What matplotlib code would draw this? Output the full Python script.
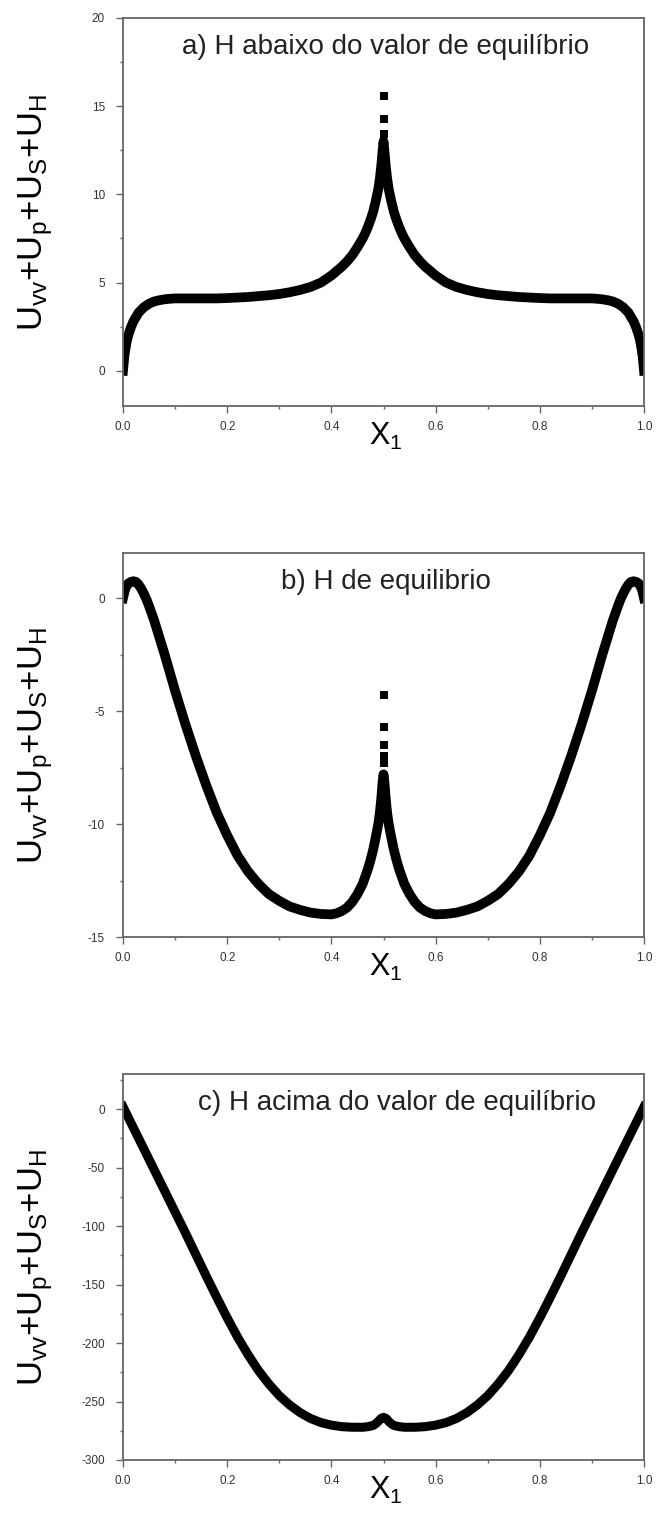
import matplotlib
matplotlib.use("Agg")
import matplotlib.pyplot as plt
from matplotlib.ticker import MultipleLocator, FormatStrFormatter

plt.rcParams['font.family'] = ['Liberation Sans', 'DejaVu Sans']
plt.rcParams['mathtext.fontset'] = 'custom'
plt.rcParams['mathtext.rm'] = 'Liberation Sans'
plt.rcParams['mathtext.it'] = 'Liberation Sans'

# a) H below equilibrium
xa = [0, 0.0025, 0.005, 0.0075, 0.01, 0.015, 0.02, 0.025, 0.03, 0.035, 0.04, 0.045, 0.05,
      0.06, 0.07, 0.08, 0.09, 0.10, 0.12, 0.14, 0.16, 0.18, 0.20, 0.22, 0.24, 0.26, 0.28,
      0.30, 0.32, 0.34, 0.36, 0.38, 0.40, 0.41, 0.42, 0.43, 0.44, 0.45, 0.46, 0.465, 0.47,
      0.475, 0.48, 0.485, 0.49, 0.493, 0.496, 0.498, 0.50,
      0.502, 0.504, 0.507, 0.51, 0.515, 0.52, 0.525, 0.53, 0.535, 0.54, 0.55, 0.56, 0.57,
      0.58, 0.59, 0.60, 0.62, 0.64, 0.66, 0.68, 0.70, 0.72, 0.74, 0.76, 0.78, 0.80, 0.82,
      0.84, 0.86, 0.88, 0.90, 0.91, 0.92, 0.93, 0.94, 0.95, 0.955, 0.96, 0.965, 0.97,
      0.975, 0.98, 0.985, 0.99, 0.9925, 0.995, 0.9975, 1.0]
ya = [0, 0.8, 1.3, 1.7, 2.0, 2.45, 2.8, 3.05, 3.3, 3.45, 3.6, 3.7, 3.8,
      3.93, 4.0, 4.05, 4.08, 4.1, 4.1, 4.1, 4.1, 4.1, 4.12, 4.15, 4.18, 4.23, 4.28,
      4.35, 4.45, 4.58, 4.75, 5.0, 5.4, 5.65, 5.9, 6.2, 6.55, 7.0, 7.5, 7.8, 8.15,
      8.55, 9.0, 9.6, 10.3, 10.9, 11.7, 12.4, 13.0,
      12.4, 11.7, 10.9, 10.3, 9.6, 9.0, 8.55, 8.15, 7.8, 7.5, 7.0, 6.55, 6.2,
      5.9, 5.65, 5.4, 5.0, 4.75, 4.58, 4.45, 4.35, 4.28, 4.23, 4.18, 4.15, 4.12, 4.1,
      4.1, 4.1, 4.1, 4.1, 4.08, 4.05, 4.0, 3.93, 3.8, 3.7, 3.6, 3.45, 3.3,
      3.05, 2.8, 2.45, 2.0, 1.7, 1.3, 0.8, 0]
spike_a = [13.4, 14.3, 15.6]

# b) equilibrium H
xb = [0, 0.003, 0.006, 0.01, 0.015, 0.02, 0.025, 0.03, 0.035, 0.04, 0.045, 0.05, 0.06,
      0.07, 0.08, 0.09, 0.10, 0.12, 0.14, 0.16, 0.18, 0.20, 0.22, 0.24, 0.26, 0.28, 0.30,
      0.32, 0.34, 0.36, 0.38, 0.40, 0.41, 0.42, 0.43, 0.44, 0.45, 0.46, 0.47, 0.475, 0.48,
      0.485, 0.49, 0.493, 0.496, 0.498, 0.50,
      0.502, 0.504, 0.507, 0.51, 0.515, 0.52, 0.525, 0.53, 0.54, 0.55, 0.56, 0.57, 0.58,
      0.59, 0.60, 0.62, 0.64, 0.66, 0.68, 0.70, 0.72, 0.74, 0.76, 0.78, 0.80, 0.82, 0.84,
      0.86, 0.88, 0.90, 0.91, 0.92, 0.93, 0.94, 0.95, 0.955, 0.96, 0.965, 0.97, 0.975,
      0.98, 0.985, 0.99, 0.994, 0.997, 1.0]
yb = [0, 0.3, 0.5, 0.65, 0.72, 0.75, 0.72, 0.6, 0.42, 0.2, -0.05, -0.35, -1.0,
      -1.75, -2.5, -3.3, -4.1, -5.6, -7.0, -8.3, -9.5, -10.5, -11.4, -12.1, -12.65, -13.1, -13.4,
      -13.65, -13.8, -13.92, -13.98, -14.0, -13.95, -13.85, -13.7, -13.45, -13.1, -12.65, -12.0,
      -11.6, -11.15, -10.6, -10.0, -9.5, -8.8, -8.2, -7.8,
      -8.2, -8.8, -9.5, -10.0, -10.6, -11.15, -11.6, -12.0, -12.65, -13.1, -13.45, -13.7, -13.85,
      -13.95, -14.0, -13.98, -13.92, -13.8, -13.65, -13.4, -13.1, -12.65, -12.1, -11.4, -10.5,
      -9.5, -8.3, -7.0, -5.6, -4.1, -3.3, -2.5, -1.75, -1.0, -0.35, -0.05, 0.2, 0.42, 0.6,
      0.72, 0.75, 0.72, 0.65, 0.5, 0.3, 0]
spike_b = [-7.3, -7.0, -6.5, -5.7, -4.3]

# c) H above equilibrium
xc = [0, 0.02, 0.04, 0.06, 0.08, 0.10, 0.12, 0.14, 0.16, 0.18, 0.20, 0.22, 0.24, 0.26,
      0.28, 0.30, 0.32, 0.34, 0.36, 0.38, 0.40, 0.42, 0.44, 0.46, 0.47, 0.48, 0.485, 0.49,
      0.495, 0.50,
      0.505, 0.51, 0.515, 0.52, 0.53, 0.54, 0.56, 0.58, 0.60, 0.62, 0.64, 0.66, 0.68, 0.70,
      0.72, 0.74, 0.76, 0.78, 0.80, 0.82, 0.84, 0.86, 0.88, 0.90, 0.92, 0.94, 0.96, 0.98, 1.0]
yc = [2, -16, -34, -52, -70, -88, -106, -124.5, -143, -161, -178.5, -195, -210, -223.5,
      -235, -245, -253, -259.5, -264.5, -268, -270.2, -271.5, -272, -272, -271.5, -270.5,
      -269, -267, -264.5, -263.5,
      -264.5, -267, -269, -270.5, -271.5, -272, -272, -271.5, -270.2, -268, -264.5, -259.5,
      -253, -245, -235, -223.5, -210, -195, -178.5, -161, -143, -124.5, -106, -88, -70, -52,
      -34, -16, 2]

titles = ["a) H abaixo do valor de equilíbrio",
          "b) H de equilibrio",
          "c) H acima do valor de equilíbrio"]
title_x = [0.503, 0.505, 0.525]

W, H = 659, 1514
fig = plt.figure(figsize=(W / 100, H / 100), dpi=100)

# axes boxes in pixels: left, top, right, bottom
boxes = [(123, 18, 644, 406), (123, 553, 644, 937), (123, 1074, 644, 1460)]
axes = []
for l, t, r, b in boxes:
    axes.append(fig.add_axes([l / W, 1 - b / H, (r - l) / W, (b - t) / H]))

ylims = [(-2, 20), (-15, 2), (-300, 30)]
ymajor = [5, 5, 50]
series = [(xa, ya, spike_a), (xb, yb, spike_b), (xc, yc, None)]
lws = [7.0, 7.0, 6.5]

spine_col = '#666666'

for i, ax in enumerate(axes):
    x, y, spike = series[i]
    ax.plot(x, y, color='black', lw=lws[i], solid_joinstyle='round')
    if spike is not None:
        ax.plot([0.5] * len(spike), spike, 's', color='black', ms=5.5, mew=0)

    ax.set_xlim(0, 1)
    ax.set_ylim(*ylims[i])
    ax.xaxis.set_major_locator(MultipleLocator(0.2))
    ax.xaxis.set_minor_locator(MultipleLocator(0.1))
    ax.xaxis.set_major_formatter(FormatStrFormatter('%.1f'))
    ax.yaxis.set_major_locator(MultipleLocator(ymajor[i]))
    ax.yaxis.set_minor_locator(MultipleLocator(ymajor[i] / 2))
    ax.yaxis.set_major_formatter(FormatStrFormatter('%d'))

    for s in ax.spines.values():
        s.set_color(spine_col)
        s.set_linewidth(1.3)
    ax.tick_params(which='major', direction='out', length=5, width=1,
                   color=spine_col, labelcolor='#333333', labelsize=8.5)
    ax.tick_params(axis='x', which='major', pad=6)
    ax.tick_params(axis='y', which='major', pad=8)
    ax.tick_params(which='minor', direction='out', length=2.5, width=1, color=spine_col)

    ax.text(title_x[i], 0.925, titles[i], transform=ax.transAxes,
            ha='center', va='center', fontsize=20, color='#222222')

    ax.set_ylabel('U$_{vv}$+U$_p$+U$_S$+U$_H$', fontsize=25)
    ax.yaxis.set_label_coords(-0.13, 0.5)
    ax.set_xlabel('X$_1$', fontsize=22)
    hpx = boxes[i][3] - boxes[i][1]
    ax.xaxis.set_label_coords(0.505, -15 / hpx)

fig.savefig('out.png', dpi=100)
